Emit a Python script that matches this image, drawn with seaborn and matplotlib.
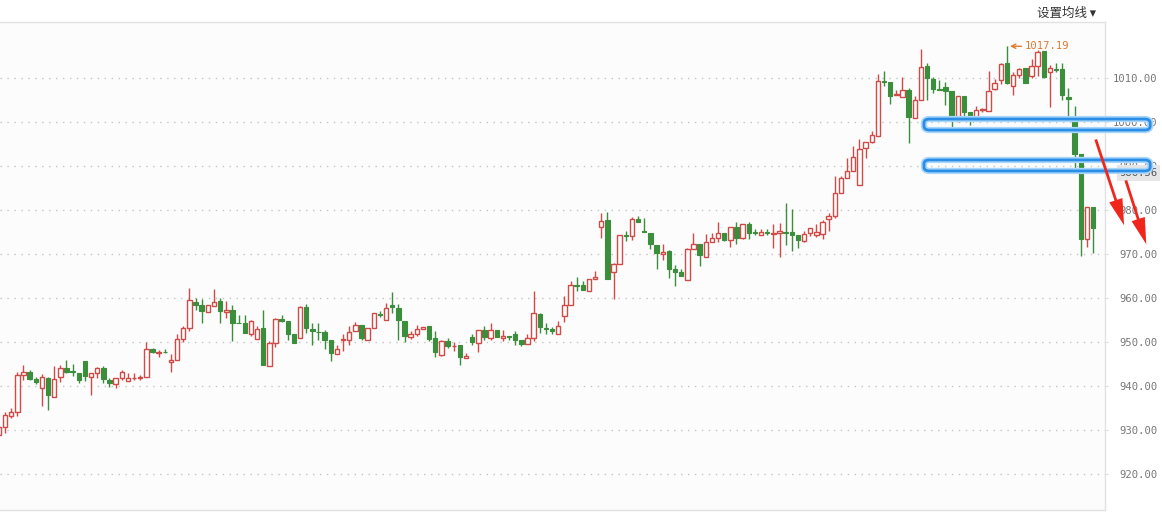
import numpy as np
import pandas as pd
import seaborn as sns
import matplotlib.pyplot as plt
import matplotlib.transforms as mtransforms
from matplotlib.patches import FancyBboxPatch, FancyArrowPatch

# daily candles (oldest first)
opens = [928.9, 930.7, 933.1, 934.1, 942.4, 943.2, 941.6, 939.5, 941.8, 937.5,
         942.0, 944.1, 943.3, 943.0, 945.6, 942.0, 943.0, 944.1, 941.4, 940.5,
         941.8, 941.1, 941.7, 941.9, 942.0, 948.4, 947.4, 947.8, 945.5, 945.8,
         950.7, 953.2, 959.1, 958.5, 956.8, 958.1, 959.4, 956.8, 957.3, 954.4,
         954.2, 951.8, 950.7, 953.2, 944.5, 949.8, 955.2, 954.8, 951.7, 950.9,
         958.0, 953.0, 952.3, 952.3, 950.5, 947.3, 950.4, 950.4, 952.4, 953.9,
         950.5, 953.2, 956.4, 954.9, 958.3, 957.7, 954.8, 951.1, 951.8, 953.0,
         953.6, 950.9, 947.0, 950.3, 949.0, 949.2, 946.4, 951.1, 949.8, 952.6,
         950.8, 952.8, 950.8, 951.3, 951.9, 950.4, 949.5, 950.9, 956.4, 953.2,
         953.0, 951.7, 956.0, 958.4, 963.0, 962.9, 961.6, 964.4, 976.0, 977.7,
         965.9, 967.6, 974.3, 974.1, 977.9, 975.2, 974.7, 972.0, 970.0, 970.7,
         966.5, 965.9, 964.1, 971.2, 972.3, 969.4, 972.7, 973.7, 974.8, 973.2,
         976.2, 973.5, 976.9, 975.0, 974.4, 974.9, 974.6, 974.8, 975.0, 975.0,
         974.4, 972.9, 974.8, 974.2, 974.5, 978.0, 978.6, 983.9, 987.3, 988.9,
         985.6, 994.1, 995.5, 996.9, 1009.2, 1009.1, 1006.0, 1005.7, 1007.3, 1000.9,
         1004.9, 1012.8, 1009.8, 1007.4, 1008.0, 1007.1, 1000.2, 1005.8, 1002.3, 1001.1,
         1002.7, 1002.4, 1007.5, 1009.6, 1013.3, 1008.1, 1010.6, 1012.3, 1010.4, 1012.8,
         1016.1, 1011.3, 1012.0, 1012.0, 1005.7, 1000.7, 992.6, 973.3, 980.7]
highs = [931.2, 934.0, 935.0, 943.2, 944.8, 943.7, 942.0, 942.7, 942.0, 944.6,
         944.8, 945.8, 945.0, 943.0, 945.6, 943.0, 944.3, 944.6, 941.7, 941.8,
         943.6, 943.0, 943.0, 942.4, 950.0, 948.6, 948.1, 948.4, 947.3, 951.7,
         953.6, 962.3, 960.0, 959.8, 958.5, 962.1, 960.0, 959.2, 958.5, 956.2,
         956.2, 954.9, 953.6, 957.3, 950.2, 955.5, 956.2, 954.8, 951.9, 958.1,
         958.7, 954.3, 954.3, 952.7, 950.5, 949.2, 951.7, 953.6, 954.5, 953.9,
         953.2, 956.6, 957.0, 958.9, 961.4, 958.7, 954.8, 952.4, 953.9, 953.4,
         953.6, 952.4, 950.5, 950.9, 949.9, 949.4, 947.5, 951.8, 952.8, 953.6,
         954.2, 952.8, 952.6, 951.4, 952.4, 950.4, 951.7, 961.5, 956.6, 954.3,
         953.3, 954.7, 960.5, 963.9, 964.8, 963.9, 964.4, 966.1, 979.2, 979.5,
         967.9, 974.2, 975.1, 978.3, 978.6, 978.1, 974.7, 972.0, 972.2, 970.8,
         967.5, 966.5, 971.4, 974.7, 972.3, 974.5, 974.8, 977.3, 974.8, 976.0,
         977.3, 976.7, 977.2, 975.7, 975.7, 975.6, 976.7, 977.0, 981.6, 980.1,
         974.4, 975.2, 975.9, 976.7, 977.8, 979.3, 987.7, 987.8, 991.7, 994.6,
         996.0, 995.5, 997.9, 1010.8, 1011.5, 1009.1, 1007.3, 1010.2, 1007.7, 1005.8,
         1016.6, 1013.3, 1010.2, 1009.5, 1009.0, 1007.1, 1005.8, 1005.8, 1002.3, 1003.6,
         1003.1, 1011.5, 1009.8, 1013.3, 1017.19, 1011.3, 1012.3, 1012.3, 1014.2, 1016.4,
         1016.1, 1013.0, 1013.3, 1013.3, 1007.7, 1003.7, 992.6, 980.7, 980.7]
lows = [927.6, 929.2, 932.7, 933.1, 941.4, 941.4, 940.5, 935.4, 934.6, 937.5,
        940.8, 943.0, 942.2, 940.7, 941.1, 938.0, 941.8, 940.7, 939.8, 939.5,
        941.3, 941.1, 941.3, 941.3, 942.0, 947.5, 946.6, 947.4, 943.1, 945.8,
        949.9, 952.4, 957.3, 954.3, 956.8, 958.1, 954.3, 955.5, 950.2, 954.2,
        952.0, 951.4, 950.7, 944.7, 944.5, 948.9, 954.5, 950.5, 949.8, 950.9,
        952.0, 949.4, 950.4, 948.5, 945.6, 947.3, 947.9, 949.4, 952.4, 950.4,
        950.5, 953.2, 955.6, 954.9, 956.6, 950.4, 949.9, 950.7, 951.4, 953.0,
        950.2, 946.5, 946.7, 948.6, 948.0, 944.7, 946.4, 949.4, 947.7, 950.5,
        950.5, 951.1, 950.2, 950.5, 949.2, 949.0, 949.5, 950.3, 952.0, 951.7,
        951.7, 951.7, 954.5, 958.4, 961.6, 961.8, 961.6, 964.4, 973.5, 964.2,
        959.7, 967.6, 973.0, 973.2, 977.3, 975.0, 971.1, 966.5, 968.6, 964.5,
        962.6, 965.0, 964.1, 971.2, 967.3, 969.4, 972.6, 972.8, 973.0, 971.6,
        972.2, 973.3, 973.4, 974.2, 974.2, 974.4, 971.4, 969.3, 972.1, 970.6,
        971.4, 972.6, 974.0, 973.8, 973.3, 975.2, 978.2, 983.9, 987.3, 988.9,
        985.6, 991.8, 995.2, 996.9, 1008.1, 1004.1, 1006.0, 1005.7, 995.2, 1000.9,
        1004.9, 1004.9, 1006.6, 1007.2, 1003.8, 998.4, 1000.2, 1000.4, 999.4, 1000.2,
        1002.3, 1002.4, 1007.3, 1008.5, 1008.5, 1006.2, 1010.0, 1008.9, 1010.0, 1010.4,
        1010.0, 1003.3, 1011.4, 1004.9, 1000.2, 989.5, 969.5, 971.6, 970.2]
closes = [930.6, 933.3, 934.1, 942.4, 943.2, 941.6, 940.8, 942.0, 937.9, 941.6,
          944.1, 943.2, 943.1, 941.3, 942.2, 943.0, 944.1, 941.6, 940.7, 941.8,
          943.2, 941.8, 941.9, 942.1, 948.4, 947.7, 947.7, 947.6, 946.0, 950.7,
          953.2, 959.6, 958.3, 957.0, 958.3, 959.1, 957.0, 957.3, 954.3, 954.2,
          952.0, 954.7, 953.0, 944.7, 949.8, 955.2, 954.7, 951.8, 949.8, 958.0,
          953.2, 952.4, 952.2, 950.5, 947.5, 948.5, 950.6, 952.3, 953.8, 950.9,
          953.2, 956.6, 956.2, 957.7, 957.9, 954.9, 951.3, 951.8, 953.0, 953.4,
          950.7, 947.7, 950.3, 949.0, 949.1, 946.5, 946.8, 949.9, 952.6, 951.1,
          952.8, 951.1, 951.4, 951.1, 950.4, 949.5, 950.9, 956.6, 953.4, 953.0,
          952.4, 953.6, 958.4, 962.9, 962.8, 961.8, 964.4, 964.8, 977.5, 964.2,
          967.7, 974.2, 974.1, 977.9, 977.3, 975.0, 972.3, 970.2, 970.5, 966.5,
          965.9, 965.0, 971.2, 972.3, 969.7, 972.8, 973.7, 974.8, 973.2, 976.0,
          973.7, 976.7, 974.8, 974.8, 975.0, 974.7, 974.8, 975.2, 974.8, 974.2,
          973.1, 974.6, 975.9, 974.9, 977.3, 978.7, 983.9, 987.3, 988.9, 992.0,
          993.9, 995.5, 997.0, 1009.2, 1009.0, 1005.8, 1006.4, 1007.3, 1001.1, 1004.9,
          1012.5, 1010.0, 1007.5, 1007.3, 1007.1, 1001.1, 1005.8, 1002.3, 1001.1, 1002.7,
          1002.8, 1007.0, 1008.9, 1013.2, 1008.9, 1010.6, 1012.0, 1008.9, 1012.8, 1015.8,
          1010.2, 1012.2, 1011.8, 1006.0, 1005.2, 992.7, 973.4, 980.7, 975.9]

y_ticks = [920, 930, 940, 950, 960, 970, 980, 990, 1000, 1010]
peak_value = 1017.19
peak_index = 164
last_label = '986.56'
level_prices = [999.4, 990.1]

df = pd.DataFrame({'open': opens, 'high': highs, 'low': lows, 'close': closes})
df['i'] = np.arange(len(df))
df['up'] = df['close'] >= df['open']

RED = '#d04a48'
GREEN = '#3a8e3c'
BG = '#fcfcfc'
ORANGE = '#e07a30'

sns.set_style('white')
plt.rcParams['font.family'] = ['DejaVu Sans Mono', 'Noto Sans CJK SC']

fig = plt.figure(figsize=(11.62, 5.12), dpi=100, facecolor='white')
ax = fig.add_axes([0, 2 / 512, 1105 / 1162, 488 / 512])
ax.set_facecolor(BG)

w = 0.72
up = df[df['up']]
dn = df[~df['up']]

# down candles: filled green
ax.vlines(dn['i'], dn['low'], dn['high'], color=GREEN, lw=1, zorder=2)
hdn = np.maximum(dn['open'] - dn['close'], 0.15)
ax.bar(dn['i'], hdn, bottom=dn['close'], width=w, color=GREEN,
       edgecolor=GREEN, lw=0.8, zorder=3)

# up candles: hollow red
ax.vlines(up['i'], up['close'], up['high'], color=RED, lw=1, zorder=2)
ax.vlines(up['i'], up['low'], up['open'], color=RED, lw=1, zorder=2)
hup = np.maximum(up['close'] - up['open'], 0.15)
ax.bar(up['i'], hup, bottom=up['open'], width=w, facecolor=BG,
       edgecolor=RED, lw=1, zorder=3)

ax.set_xlim(0.187, 179.95)
ax.set_ylim(911.8, 1022.7)
ax.set_xticks([])
ax.set_yticks(y_ticks)
ax.set_yticklabels([f'{t:.2f}' for t in y_ticks])
ax.yaxis.tick_right()
ax.tick_params(axis='y', length=2, color='#dddddd', pad=36, labelsize=7.6,
               labelcolor='#777777')
for lab in ax.get_yticklabels():
    lab.set_ha('right')
ax.grid(axis='y', linestyle=(0, (1, 4)), color='#c4c4c4', lw=1)

for side in ['top', 'right', 'bottom']:
    ax.spines[side].set_color('#e2e2e2')
    ax.spines[side].set_linewidth(1)
ax.spines['left'].set_visible(False)

# highest point marker
ax.annotate(f'{peak_value:.2f}', xy=(peak_index + 0.5, peak_value),
            xytext=(166.9, peak_value), color=ORANGE, fontsize=7.6, va='center',
            arrowprops=dict(arrowstyle='->', color=ORANGE, lw=1,
                            shrinkA=0, shrinkB=0))

# last price box on the axis
blend = mtransforms.blended_transform_factory(ax.transAxes, ax.transData)
ax.text(1.0475, 988.4, last_label, transform=blend, ha='right', va='center',
        fontsize=7.6, color='#555555', zorder=5, clip_on=False,
        bbox=dict(boxstyle='square,pad=0.25', fc='#e6e6e6', ec='none'))

# blue support bands
for p in level_prices:
    for lw, col in [(4.5, '#a9d6fb'), (2.0, '#2a8de6')]:
        box = FancyBboxPatch((150.5, p - 1.25), 36.8, 2.5,
                             boxstyle='round,pad=0,rounding_size=0.9',
                             fc='none', ec=col, lw=lw, clip_on=False, zorder=6)
        ax.add_patch(box)

# red downward arrows
for (x0, y0), (x1, y1) in [((178.3, 996.6), (183.2, 975.9)),
                           ((183.2, 987.3), (186.8, 971.6))]:
    arr = FancyArrowPatch((x0, y0), (x1, y1),
                          arrowstyle='simple,head_length=1.9,head_width=1.0,tail_width=0.2',
                          mutation_scale=10, color='#f0261c', lw=0,
                          clip_on=False, zorder=7)
    ax.add_patch(arr)

fig.text(1037 / 1162, 1 - 13 / 512, '设置均线 ▾', fontsize=9, color='#333333',
         va='center', ha='left', family=['Noto Sans CJK SC', 'DejaVu Sans'])

fig.savefig('out.png', dpi=100, facecolor='white')
